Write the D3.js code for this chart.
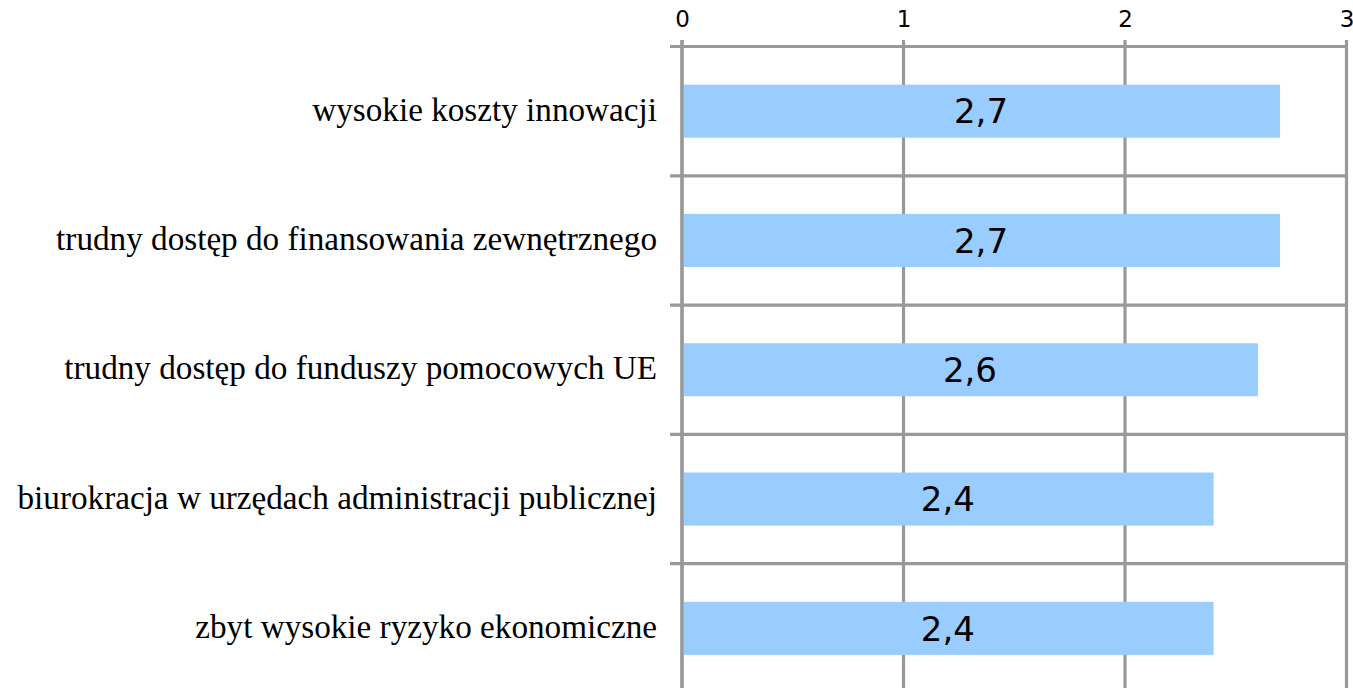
<!DOCTYPE html>
<html>
<head>
<meta charset="utf-8">
<script src="https://cdn.jsdelivr.net/npm/d3@7"></script>
<style>
html,body{margin:0;padding:0;background:#fff;}
svg{display:block;}
</style>
</head>
<body>
<svg id="chart" width="1353" height="688"></svg>
<script>
const categories = [
  "wysokie koszty innowacji",
  "trudny dostęp do finansowania zewnętrznego",
  "trudny dostęp do funduszy pomocowych UE",
  "biurokracja w urzędach administracji publicznej",
  "zbyt wysokie ryzyko ekonomiczne"
];
const values = [2.7, 2.7, 2.6, 2.4, 2.4];
const valueLabels = ["2,7", "2,7", "2,6", "2,4", "2,4"];
const tickValues = [0, 1, 2, 3];

const svg = d3.select("#chart");
const W = 1353, H = 688;
const plotTop = 46.5, plotBottom = 693;
const x = d3.scaleLinear().domain([0, 3]).range([682, 1346.5]);
const y = d3.scaleBand().domain(categories).range([plotTop, plotBottom])
  .paddingInner(0.59).paddingOuter(0.295);
const step = y.step();
const gridColor = "#999999";

// horizontal band lines
const bounds = d3.range(categories.length + 1).map(i => plotTop + i * step);
svg.append("g").selectAll("line").data(bounds).join("line")
  .attr("x1", 670).attr("x2", x(3))
  .attr("y1", d => d).attr("y2", d => d)
  .attr("stroke", gridColor).attr("stroke-width", 3.2);

// vertical gridlines
svg.append("g").selectAll("line").data(tickValues).join("line")
  .attr("x1", d => x(d)).attr("x2", d => x(d))
  .attr("y1", 40).attr("y2", H + 5)
  .attr("stroke", gridColor).attr("stroke-width", 3.2);

// bars
svg.append("g").selectAll("rect").data(values).join("rect")
  .attr("x", x(0))
  .attr("y", (d, i) => y(categories[i]))
  .attr("width", d => x(d) - x(0))
  .attr("height", y.bandwidth())
  .attr("fill", "#99ccff");

// axis line at 0 on top
svg.append("line")
  .attr("x1", x(0)).attr("x2", x(0))
  .attr("y1", 40).attr("y2", H + 5)
  .attr("stroke", gridColor).attr("stroke-width", 3.2);

// top axis tick labels
const axis = d3.axisTop(x).tickValues(tickValues).tickSize(0).tickPadding(0)
  .tickFormat(d3.format("d"));
const ag = svg.append("g").attr("transform", "translate(0,27)").call(axis);
ag.select(".domain").remove();
ag.selectAll("text")
  .attr("font-family", "DejaVu Sans, Verdana, sans-serif")
  .attr("font-size", 23).attr("fill", "#000").attr("dy", 0);

// category labels
svg.append("g").selectAll("text").data(categories).join("text")
  .attr("x", 657)
  .attr("y", d => y(d) + y.bandwidth() / 2)
  .attr("dy", "0.29em")
  .attr("text-anchor", "end")
  .style("font-family", "'Liberation Serif', 'Times New Roman', serif")
  .attr("font-size", 33.2)
  .attr("fill", "#000")
  .text(d => d);

// value labels
svg.append("g").selectAll("text").data(values).join("text")
  .attr("x", d => (x(0) + x(d)) / 2)
  .attr("y", (d, i) => y(categories[i]) + y.bandwidth() / 2)
  .attr("dy", "0.36em")
  .attr("text-anchor", "middle")
  .attr("font-family", "DejaVu Sans, Verdana, sans-serif")
  .attr("font-size", 34)
  .attr("fill", "#000")
  .text((d, i) => valueLabels[i]);
</script>
</body>
</html>
